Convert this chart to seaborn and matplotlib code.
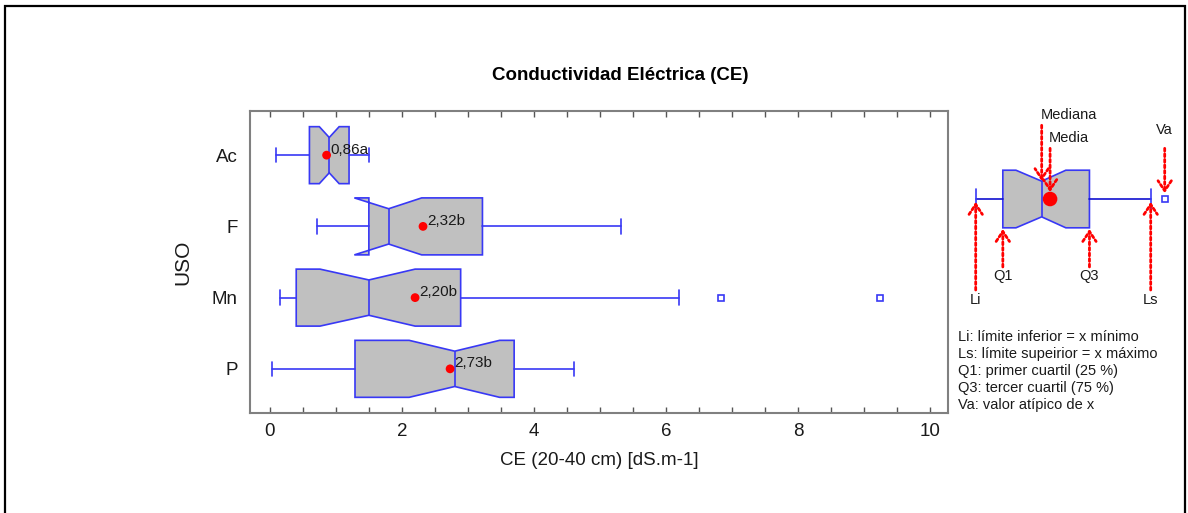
import numpy as np
import matplotlib
matplotlib.use("Agg")
import matplotlib.pyplot as plt
from matplotlib.patches import Rectangle
from matplotlib.ticker import MultipleLocator
import seaborn as sns

# datos (CE 20-40 cm)
uso = ["Ac", "F", "Mn", "P"]
ce_min = [0.09, 0.72, 0.16, 0.03]
ce_q1 = [0.60, 1.50, 0.40, 1.29]
ce_cilo = [0.75, 1.28, 0.76, 2.11]
ce_mediana = [0.90, 1.80, 1.50, 2.80]
ce_cihi = [1.05, 2.30, 2.20, 3.48]
ce_q3 = [1.20, 3.22, 2.89, 3.70]
ce_max = [1.50, 5.32, 6.20, 4.60]
ce_atipicos = [[], [], [6.84, 9.24], []]
ce_media = [0.86, 2.32, 2.20, 2.73]
etiquetas = ["0,86a", "2,32b", "2,20b", "2,73b"]

# valores del esquema de la leyenda
clave_stats = [0.0, 1.55, 2.30, 3.77, 5.15, 6.50, 10.0]  # Li, Q1, cilo, mediana, cihi, Q3, Ls
clave_media = 4.25
clave_atipico = 10.8
notas = ["Li: límite inferior = x mínimo",
         "Ls: límite supeirior = x máximo",
         "Q1: primer cuartil (25 %)",
         "Q3: tercer cuartil (75 %)",
         "Va: valor atípico de x"]

AZUL = "#3838F5"
GRIS = "#C0C0C0"
TEXTO = "#1a1a1a"

sns.set_theme(style="white")
plt.rcParams["font.family"] = ["Liberation Sans", "DejaVu Sans"]

W, H = 1188, 513
fig = plt.figure(figsize=(W / 100, H / 100), dpi=100)

def px(x0, y0, x1, y1):
    return [x0 / W, 1 - y1 / H, (x1 - x0) / W, (y1 - y0) / H]

def estrechar(res, posiciones, ancho, frac=0.31):
    # la muesca del original es menos profunda que la de matplotlib (0.25)
    for caja, linea_med, p in zip(res["boxes"], res["medians"], posiciones):
        v = caja.get_path().vertices
        d = v[:, 1] - p
        sel = np.isclose(np.abs(d), 0.25 * ancho)
        v[sel, 1] = p + np.sign(d[sel]) * frac * ancho
        linea_med.set_ydata([p - frac * ancho, p + frac * ancho])

# ---- grafico principal ----
ax = fig.add_axes(px(250, 111, 948, 413))
pos = np.arange(len(uso))
stats = []
for i in range(len(uso)):
    stats.append(dict(whislo=ce_min[i], q1=ce_q1[i], cilo=ce_cilo[i], med=ce_mediana[i],
                      cihi=ce_cihi[i], q3=ce_q3[i], whishi=ce_max[i],
                      fliers=np.array(ce_atipicos[i]), mean=ce_media[i]))

caja = dict(facecolor=GRIS, edgecolor=AZUL, linewidth=1.2)
linea = dict(color=AZUL, linewidth=1.2)
atip = dict(marker="s", markersize=4, markerfacecolor="white",
            markeredgecolor=AZUL, markeredgewidth=1.2, linestyle="none")
res = ax.bxp(stats, positions=pos, widths=0.8, capwidths=0.2, orientation="horizontal",
             shownotches=True, patch_artist=True, showmeans=False,
             boxprops=caja, whiskerprops=linea, capprops=linea, medianprops=linea,
             flierprops=atip)
estrechar(res, pos, 0.8)

sns.scatterplot(x=ce_media, y=pos, color="red", s=40, edgecolor="none",
                ax=ax, legend=False, zorder=5)
for m, p, t in zip(ce_media, pos, etiquetas):
    ax.annotate(t, (m, p), xytext=(3, 4), textcoords="offset points",
                ha="left", va="center", fontsize=11, color=TEXTO, zorder=6)

ax.set_xlim(-0.30, 10.27)
ax.set_ylim(3.62, -0.62)
ax.set_yticks(pos)
ax.set_yticklabels(uso)
ax.xaxis.set_major_locator(MultipleLocator(2))
ax.xaxis.set_minor_locator(MultipleLocator(0.5))
ax.tick_params(axis="x", which="both", direction="in", top=True, bottom=True,
               length=4, width=1, color="#555555", labelsize=13.5, pad=7,
               labelcolor=TEXTO)
ax.tick_params(axis="y", length=0, labelsize=13.5, pad=9, labelcolor=TEXTO)
for s in ax.spines.values():
    s.set_color("#808080")
    s.set_linewidth(1.5)
ax.set_xlabel("CE (20-40 cm) [dS.m-1]", fontsize=13.5, labelpad=9, color=TEXTO)
ax.set_ylabel("USO", fontsize=15, labelpad=14, color=TEXTO)

fig.text(620 / W, 1 - 76 / H, "Conductividad Eléctrica (CE)", ha="center", va="center",
         fontsize=13.5, fontweight="bold", color="black")

# ---- esquema de la leyenda ----
kx = fig.add_axes(px(955, 95, 1185, 315))
kx.set_xlim(-1.183, 11.96)
kx.set_ylim(2.014, -1.806)
kx.axis("off")
li, q1, cilo, med, cihi, q3, ls = clave_stats
rk = kx.bxp([dict(whislo=li, q1=q1, cilo=cilo, med=med, cihi=cihi, q3=q3, whishi=ls,
                  fliers=np.array([clave_atipico]))],
            positions=[0], widths=1.0, capwidths=0.35, orientation="horizontal",
            shownotches=True, patch_artist=True,
            boxprops=caja, whiskerprops=dict(color="#1010D0", linewidth=1.2),
            capprops=linea, medianprops=linea, flierprops=atip)
estrechar(rk, [0], 1.0)
sns.scatterplot(x=[clave_media], y=[0], color="red", s=110, edgecolor="none",
                ax=kx, legend=False, zorder=5)

flecha = dict(arrowstyle="->,head_length=0.6,head_width=0.4", color="red", lw=2,
              linestyle=(0, (1, 1)), shrinkA=0, shrinkB=0)
# desde abajo
for xv, texto, y0, y1, yt in [(li, "Li", 1.58, 0.05, 1.75), (ls, "Ls", 1.58, 0.05, 1.75),
                              (q1, "Q1", 1.18, 0.52, 1.33), (q3, "Q3", 1.18, 0.52, 1.33)]:
    kx.annotate("", xy=(xv, y1), xytext=(xv, y0), arrowprops=flecha)
    kx.text(xv, yt, texto, ha="center", va="center", fontsize=10.5, color=TEXTO)
# desde arriba
for xv, texto, y0, y1, yt, ha in [(med, "Mediana", -1.28, -0.31, -1.46, "left"),
                                  (clave_media, "Media", -0.88, -0.12, -1.06, "left"),
                                  (clave_atipico, "Va", -0.88, -0.10, -1.20, "center")]:
    kx.annotate("", xy=(xv, y1), xytext=(xv, y0), arrowprops=flecha)
    kx.text(xv - (0.05 if ha == "left" else 0), yt, texto, ha=ha, va="center",
            fontsize=10.5, color=TEXTO)

for i, t in enumerate(notas):
    fig.text(958 / W, 1 - (337 + 17 * i) / H, t, ha="left", va="center",
             fontsize=10.5, color=TEXTO)

# marco exterior
fig.add_artist(Rectangle((4.5 / W, -0.05), (1185 - 4.5) / W, 1.05 - 5.5 / H,
                         transform=fig.transFigure, fill=False, ec="black", lw=1.6))

fig.savefig("out.png", dpi=100)
